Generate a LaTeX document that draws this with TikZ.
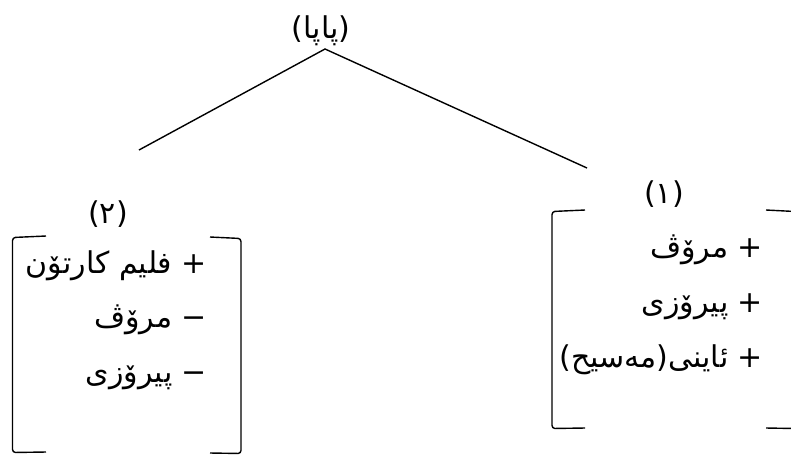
\documentclass[tikz,border=0pt]{standalone}
\usepackage{fontspec}
\TeXXeTstate=1
\newfontfamily\arabicfont[Script=Arabic]{DejaVu Sans}
\begin{document}
\begin{tikzpicture}[x=1pt,y=-1pt,
  every node/.style={inner sep=0pt, outer sep=0pt},
  item/.style={anchor=base east, font=\arabicfont\fontsize{30}{36}\selectfont},
  num/.style={anchor=base, font=\arabicfont\fontsize{30}{36}\selectfont},
  ttl/.style={anchor=base, font=\arabicfont\fontsize{30}{36}\selectfont},
  edge/.style={line width=1.4pt},
  brk/.style={line width=1.4pt, rounded corners=3pt}]
\useasboundingbox (0,0) rectangle (791,456);
% title and branches
\node[ttl] (papa) at (321,38) {\beginR(پاپا)\endR};
\coordinate (apex) at (325,49);
\coordinate (lend) at (139,150);
\coordinate (rend) at (587,168);
\draw[edge] (lend) -- (apex) -- (rend);
% left group
\node[num] (n2) at (108,223) {\beginR(٢)\endR};
\node[item] (l1) at (207,273) {\beginR + فلیم کارتۆن\endR};
\node[item] (l2) at (207,327) {\beginR − مرۆڤ\endR};
\node[item] (l3) at (207,382) {\beginR − پیرۆزی\endR};
\draw[brk] (46,236) -- (12.5,237.5) -- (12.5,452.5) -- (46,452);
\draw[brk] (210,237) -- (241,238.5) -- (241,453.5) -- (210,453);
% right group
\node[num] (n1) at (664,203) {\beginR(١)\endR};
\node[item] (r1) at (763,257) {\beginR + مرۆڤ\endR};
\node[item] (r2) at (763,312) {\beginR + پیرۆزی\endR};
\node[item] (r3) at (763,367) {\beginR + ئاینی(مەسیح)\endR};
\draw[brk] (585,210) -- (552,211.5) -- (552,428.5) -- (585,428);
\draw[brk] (766,210) -- (795,211.5) -- (795,428.5) -- (766,428);
\end{tikzpicture}
\end{document}
